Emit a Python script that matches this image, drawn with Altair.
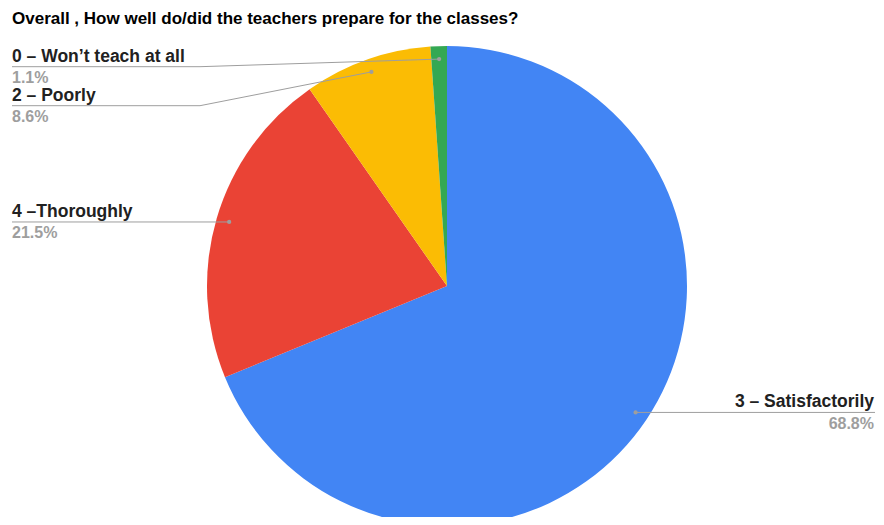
import math
import altair as alt
import pandas as pd

# ---- data ----
categories = ["3 – Satisfactorily", "4 –Thoroughly", "2 – Poorly", "0 – Won’t teach at all"]
values = [68.8, 21.5, 8.6, 1.1]
colors = ["#4285f4", "#ea4335", "#fbbc04", "#34a853"]
title_text = "Overall , How well do/did the teachers prepare for the classes?"

# ---- layout (pixels inside plot area, converted to pie-radius units) ----
W, H = 868, 477
R_PX = 240
CX_PX, CY_PX = 439, 246
DOT_R = 0.946
LEFT_END = (4 - CX_PX) / R_PX
RIGHT_END = (867 - CX_PX) / R_PX
ELBOW_X = (192 - CX_PX) / R_PX
label_y_override = {"0 – Won’t teach at all": (CY_PX - 26.7) / R_PX,
                    "2 – Poorly": (CY_PX - 65.7) / R_PX}

total = sum(values)
rows = []
cum = 0.0
for cat, v in zip(categories, values):
    start = cum
    end = cum + v
    cum = end
    mid = (start + end) / 2 / total * 2 * math.pi
    dx = DOT_R * math.sin(mid)
    dy = DOT_R * math.cos(mid)
    side = "left" if dx < 0 else "right"
    ly = label_y_override.get(cat, dy)
    rows.append(dict(label=cat, value=v, start=start / total * 100, end=end / total * 100,
                     cx=0.0, cy=0.0, dot_x=dx, dot_y=dy, side=side, label_y=ly,
                     end_x=LEFT_END if side == "left" else RIGHT_END,
                     elbow_x=ELBOW_X if side == "left" else dx,
                     pct=f"{v:.1f}%"))
df = pd.DataFrame(rows)

line_rows = []
for r in rows:
    line_rows.append(dict(label=r["label"], seq=0, lx=r["dot_x"], ly=r["dot_y"]))
    line_rows.append(dict(label=r["label"], seq=1, lx=r["elbow_x"], ly=r["label_y"]))
    line_rows.append(dict(label=r["label"], seq=2, lx=r["end_x"], ly=r["label_y"]))
lines_df = pd.DataFrame(line_rows)

xs = alt.Scale(domain=[(0 - CX_PX) / R_PX, (W - CX_PX) / R_PX], nice=False, zero=False)
ys = alt.Scale(domain=[-(H - CY_PX) / R_PX, CY_PX / R_PX], nice=False, zero=False)

base = alt.Chart(df)

pie = base.mark_arc(radius=R_PX).encode(
    x=alt.X("cx:Q", scale=xs, axis=None, stack=False),
    y=alt.Y("cy:Q", scale=ys, axis=None, stack=False),
    theta=alt.Theta("start:Q", scale=alt.Scale(domain=[0, 100], range=[0, 2 * math.pi])),
    theta2="end:Q",
    color=alt.Color("label:N", scale=alt.Scale(domain=categories, range=colors), legend=None),
)

leaders = alt.Chart(lines_df).mark_line(color="#9e9e9e", strokeWidth=1).encode(
    x=alt.X("lx:Q", scale=xs, axis=None),
    y=alt.Y("ly:Q", scale=ys, axis=None),
    detail="label:N",
    order="seq:Q",
)

dots = base.mark_circle(color="#9e9e9e", opacity=1, size=18).encode(
    x=alt.X("dot_x:Q", scale=xs, axis=None),
    y=alt.Y("dot_y:Q", scale=ys, axis=None),
)

FONT = "Liberation Sans, Arial, sans-serif"

def texts(side, align, dx):
    sub = base.transform_filter(alt.datum.side == side)
    lab = sub.mark_text(align=align, dx=dx, dy=-5, color="#212121", font=FONT, fontSize=17.5,
                        fontWeight="bold", baseline="alphabetic").encode(
        x=alt.X("end_x:Q", scale=xs, axis=None),
        y=alt.Y("label_y:Q", scale=ys, axis=None),
        text="label:N",
    )
    pc = sub.mark_text(align=align, dx=dx, dy=16.5, color="#9e9e9e", font=FONT, fontSize=16,
                       fontWeight="bold", baseline="alphabetic").encode(
        x=alt.X("end_x:Q", scale=xs, axis=None),
        y=alt.Y("label_y:Q", scale=ys, axis=None),
        text="pct:N",
    )
    return lab + pc

chart = alt.layer(pie, leaders, dots, texts("left", "left", 0), texts("right", "right", -1)).properties(
    width=W,
    height=H,
    padding={"left": 0, "top": 32, "right": 0, "bottom": 0},
    autosize=alt.AutoSizeParams(type="none"),
    title=alt.TitleParams(text=title_text, anchor="start", font=FONT, fontSize=17,
                          fontWeight="bold", color="#000000", dx=4, offset=12),
).configure_view(stroke=None)

chart.save("out.html", embed_options={"renderer": "svg", "actions": False})
